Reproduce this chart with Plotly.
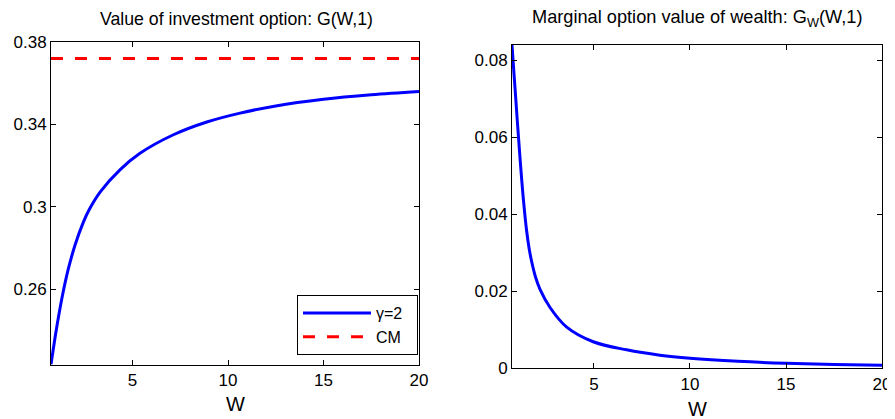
import plotly.graph_objects as go

# ---- data ----
w_left = [0.73, 0.94, 1.11, 1.34, 1.64, 1.99, 2.42, 2.72, 3.30, 4.34, 5.39, 7.14, 8.89, 10.63, 12.5, 15, 17.5, 20]
g_left = [0.2237, 0.2365, 0.2460, 0.2575, 0.2700, 0.2815, 0.2925, 0.2985, 0.3072, 0.3180, 0.3260, 0.3350,
          0.3412, 0.3455, 0.3490, 0.3522, 0.3544, 0.3560]
cm_w = [0.73, 20]
cm_value = [0.372, 0.372]

w_right = [0.73, 0.83, 0.94, 1.06, 1.18, 1.33, 1.49, 1.62, 1.75, 1.95, 2.19, 2.71, 3.58, 4.96, 6.70, 8.43, 10,
           12.5, 15, 17.5, 20]
gw_right = [0.084, 0.0768, 0.0690, 0.0606, 0.0525, 0.0435, 0.0358, 0.0312, 0.0278, 0.0238, 0.0205, 0.0158,
            0.0107, 0.0069, 0.0048, 0.0034, 0.0026, 0.0018, 0.0013, 0.0010, 0.0008]

x_ticks = [5, 10, 15, 20]
x_ticktext = ["5", "10", "15", "20"]
yl_ticks = [0.26, 0.30, 0.34, 0.38]
yl_ticktext = ["0.26", "0.3", "0.34", "0.38"]
yr_ticks = [0, 0.02, 0.04, 0.06, 0.08]
yr_ticktext = ["0", "0.02", "0.04", "0.06", "0.08"]

legend_names = ["γ=2", "CM"]
title_left = "Value of investment option: G(W,1)"
title_right = "Marginal option value of wealth: G<sub>W</sub>(W,1)"
xlabel = "W"

FONT = "Liberation Sans, Arial, Helvetica, sans-serif"

# the page body keeps an 8px margin at top/left; figure runs to the window edge
W_FIG, H_FIG, OFF = 887, 411, 8


def px(x):
    return (x - OFF) / W_FIG


def py(y):
    return 1 - (y - OFF) / H_FIG


PAD = "\u00a0\u00a0"

fig = go.Figure()
fig.add_trace(go.Scatter(x=w_left, y=g_left, mode="lines", name=legend_names[0] + PAD,
                         line=dict(color="#0000ff", width=3, shape="spline"),
                         xaxis="x", yaxis="y"))
fig.add_trace(go.Scatter(x=cm_w, y=cm_value, mode="lines", name=legend_names[1] + PAD,
                         line=dict(color="#ff0000", width=3, dash="12px,12px"),
                         xaxis="x", yaxis="y"))
fig.add_trace(go.Scatter(x=w_right, y=gw_right, mode="lines", showlegend=False,
                         line=dict(color="#0000ff", width=3, shape="spline"),
                         xaxis="x2", yaxis="y2"))

axis_common = dict(showline=True, linecolor="black", linewidth=1, mirror="allticks",
                   ticks="inside", ticklen=5, tickcolor="black", showgrid=False, zeroline=False,
                   automargin=False,
                   tickfont=dict(family=FONT, size=17, color="black"))

fig.update_layout(
    width=W_FIG, height=H_FIG,
    margin=dict(l=0, r=0, t=0, b=0, pad=0, autoexpand=False),
    paper_bgcolor="white", plot_bgcolor="white",
    font=dict(family=FONT, color="black"),
    xaxis=dict(domain=[px(51), px(419)], range=[0.73, 20], tickvals=x_ticks, ticktext=x_ticktext,
               anchor="y", **axis_common),
    yaxis=dict(domain=[py(365), py(42)], range=[0.2233, 0.38], tickvals=yl_ticks, ticktext=yl_ticktext,
               anchor="x", **axis_common),
    xaxis2=dict(domain=[px(512), px(882)], range=[0.73, 20], tickvals=x_ticks, ticktext=x_ticktext,
                anchor="y2", **axis_common),
    yaxis2=dict(domain=[py(368.3), py(45)], range=[0, 0.084], tickvals=yr_ticks, ticktext=yr_ticktext,
                anchor="x2", **axis_common),
    legend=dict(x=px(418), xanchor="right", y=py(355), yanchor="bottom",
                bordercolor="black", borderwidth=1, bgcolor="white",
                font=dict(family=FONT, size=16, color="black"), itemwidth=68,
                tracegroupgap=0),
    showlegend=True,
)

fig.add_annotation(text=title_left, x=px(236.5), y=py(19), xref="paper", yref="paper",
                   xanchor="center", yanchor="middle", showarrow=False,
                   font=dict(family=FONT, size=17.7, color="black"))
fig.add_annotation(text=title_right, x=px(696.5), y=py(19), xref="paper", yref="paper",
                   xanchor="center", yanchor="middle", showarrow=False,
                   font=dict(family=FONT, size=18.2, color="black"))
fig.add_annotation(text=xlabel, x=px(235), y=py(404), xref="paper", yref="paper",
                   xanchor="center", yanchor="middle", showarrow=False,
                   font=dict(family=FONT, size=20, color="black"))
fig.add_annotation(text=xlabel, x=px(697), y=py(409), xref="paper", yref="paper",
                   xanchor="center", yanchor="middle", showarrow=False,
                   font=dict(family=FONT, size=20, color="black"))

fig.write_html("out.html")
